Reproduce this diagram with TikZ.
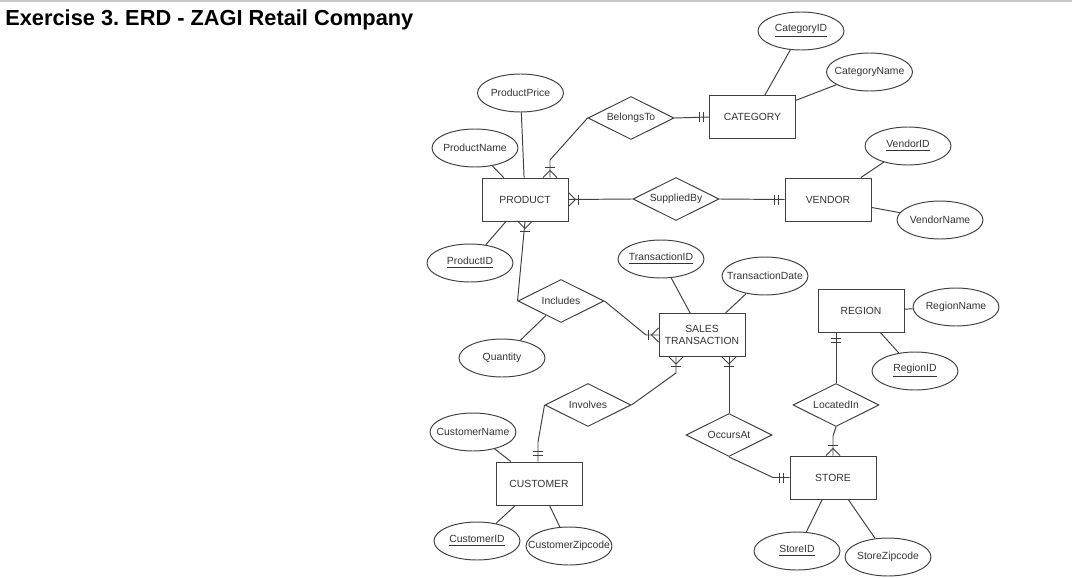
\documentclass[tikz,border=0pt]{standalone}
\usepackage{fontspec}
\setmainfont{Liberation Sans}
\usepackage{tikz}
\usetikzlibrary{shapes.geometric,calc}
\frenchspacing

\begin{document}
\begin{tikzpicture}[x=0.02cm,y=-0.02cm,
  every node/.style={font=\fontsize{5.9}{7}\selectfont, text=black!80},
  entity/.style={draw=black!75, line width=0.55pt, minimum width=1.72cm, minimum height=0.86cm, inner sep=0pt, align=center},
  attr/.style={ellipse, draw=black!75, line width=0.55pt, minimum width=1.72cm, minimum height=0.76cm, inner xsep=-25pt, inner ysep=0pt},
  rel/.style={diamond, aspect=2, draw=black!75, line width=0.55pt, minimum width=1.72cm, minimum height=0.86cm, inner sep=0pt},
  link/.style={draw=black!75, line width=0.55pt},
  onemany/.pic={\draw[link] (-7,0) -- (0,-7) -- (7,0); \draw[link] (-5,-10) -- (5,-10);},
  onlyone/.pic={\draw[link] (-5,-6) -- (5,-6); \draw[link] (-5,-10) -- (5,-10);}]
\useasboundingbox (0,0) rectangle (1072,578);
\draw[black!22, line width=1.2pt] (0,1) -- (1072,1);
\node[anchor=base west, inner sep=0pt, font=\fontsize{12.4}{14}\selectfont\bfseries, text=black] (title) at (5,26) {Exercise 3. ERD - ZAGI Retail Company};

\node[entity] (category) at (752.5,117) {CATEGORY};
\node[entity] (product) at (525,199.5) {PRODUCT};
\node[entity] (vendor) at (828,199.5) {VENDOR};
\node[entity] (sales) at (702,335) {SALES\\TRANSACTION};
\node[entity] (region) at (861,311) {REGION};
\node[entity] (customer) at (539,483.5) {CUSTOMER};
\node[entity] (store) at (833,477.5) {STORE};

\node[rel] (belongsto) at (631,118) {BelongsTo};
\node[rel] (suppliedby) at (676,199) {SuppliedBy};
\node[rel] (includes) at (561,301) {Includes};
\node[rel] (involves) at (588,405) {Involves};
\node[rel] (occursat) at (729,435) {OccursAt};
\node[rel] (locatedin) at (836,405) {LocatedIn};

\node[attr] (categoryid) at (801,31) {\underline{CategoryID}};
\node[attr] (categoryname) at (869.5,72) {CategoryName};
\node[attr] (productprice) at (520.5,93) {ProductPrice};
\node[attr] (productname) at (475,148) {ProductName};
\node[attr] (productid) at (470,263) {\underline{ProductID}};
\node[attr] (vendorid) at (908,146) {\underline{VendorID}};
\node[attr] (vendorname) at (940,220) {VendorName};
\node[attr] (transactionid) at (661,259) {\underline{TransactionID}};
\node[attr] (transactiondate) at (765,276) {TransactionDate};
\node[attr] (quantity) at (502,358) {Quantity};
\node[attr] (regionname) at (956,307) {RegionName};
\node[attr] (regionid) at (915,371) {\underline{RegionID}};
\node[attr] (customername) at (473,432) {CustomerName};
\node[attr] (customerid) at (477,541) {\underline{CustomerID}};
\node[attr] (customerzipcode) at (569,546) {CustomerZipcode};
\node[attr] (storeid) at (797,551) {\underline{StoreID}};
\node[attr] (storezipcode) at (888,557) {StoreZipcode};

\coordinate (b1) at (550,160);
\coordinate (i1) at (646,335);
\coordinate (v1) at (676,373);
\coordinate (v2) at (538,442);
\coordinate (o1) at (773,477.5);
\coordinate (l1) at (833,436);

\draw[link] (belongsto.west) -- (b1) -- (b1 |- product.north);
\draw[link] (belongsto.east) -- (category.west);
\draw[link] (product.east) -- (suppliedby.west);
\draw[link] (suppliedby.east) -- (vendor.west);
\draw[link] (product.south) -- (includes.west);
\draw[link] (includes.east) -- (i1) -- (sales.west);
\draw[link] (v1 |- sales.south) -- (v1) -- (involves.east);
\draw[link] (involves.west) -- (v2) -- (v2 |- customer.north);
\draw[link] (occursat.north) -- (occursat.north |- sales.south);
\draw[link] (occursat.south) -- (o1) -- (store.west);
\draw[link] (locatedin.north) -- (locatedin.north |- region.south);
\draw[link] (locatedin.south) -- (l1) -- (l1 |- store.north);

\draw[link] (categoryid) -- (category);
\draw[link] (categoryname) -- (category);
\draw[link] (productprice) -- (product);
\draw[link] (productname) -- (product);
\draw[link] (productid) -- (product);
\draw[link] (vendorid) -- (vendor);
\draw[link] (vendorname) -- (vendor);
\draw[link] (transactionid) -- (sales);
\draw[link] (transactiondate) -- (sales);
\draw[link] (quantity) -- (includes);
\draw[link] (regionname) -- (region);
\draw[link] (regionid) -- (region);
\draw[link] (customername) -- (customer);
\draw[link] (customerid) -- (customer);
\draw[link] (customerzipcode) -- (customer);
\draw[link] (storeid) -- (store);
\draw[link] (storezipcode) -- (store);

\pic at (b1 |- product.north) {onemany};
\pic[rotate=90] at (category.west) {onlyone};
\pic[rotate=-90] at (product.east) {onemany};
\pic[rotate=90] at (vendor.west) {onlyone};
\pic[rotate=180] at (product.south) {onemany};
\pic[rotate=90] at (sales.west) {onemany};
\pic[rotate=180] at (v1 |- sales.south) {onemany};
\pic at (v2 |- customer.north) {onlyone};
\pic[rotate=180] at (occursat.north |- sales.south) {onemany};
\pic[rotate=90] at (store.west) {onlyone};
\pic[rotate=180] at (locatedin.north |- region.south) {onlyone};
\pic at (l1 |- store.north) {onemany};
\end{tikzpicture}
\end{document}
